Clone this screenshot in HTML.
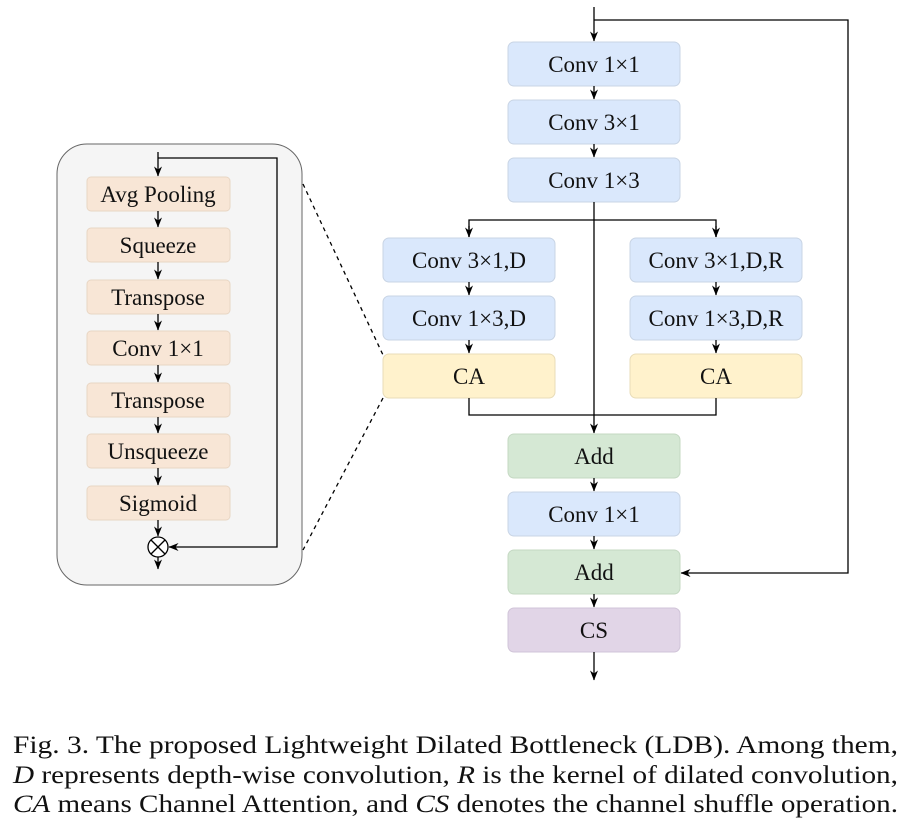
<!DOCTYPE html>
<html><head><meta charset="utf-8"><style>
html,body{margin:0;padding:0;background:#fff;}
svg{display:block;}
text{font-family:"Liberation Serif","Times New Roman",Times,serif;}
</style></head><body>
<svg width="909" height="822" viewBox="0 0 909 822" xmlns="http://www.w3.org/2000/svg">
<defs>
<marker id="a" viewBox="0 0 10 10" refX="9.5" refY="5" markerWidth="10" markerHeight="10" orient="auto" markerUnits="userSpaceOnUse"><path d="M0,1 L10,5 L0,9 L3,5 z" fill="#000"/></marker>
</defs>
<rect x="57" y="144" width="245" height="441" rx="30" fill="#f5f5f5" stroke="#666" stroke-width="1"/>
<g fill="#f8e6d6" stroke="#e8d6c4" stroke-width="1">
<rect x="87" y="177" width="143" height="34" rx="4"/>
<rect x="87" y="228" width="143" height="34" rx="4"/>
<rect x="87" y="280" width="143" height="34" rx="4"/>
<rect x="87" y="331" width="143" height="34" rx="4"/>
<rect x="87" y="383" width="143" height="34" rx="4"/>
<rect x="87" y="434" width="143" height="34" rx="4"/>
<rect x="87" y="486" width="143" height="34" rx="4"/>
</g>
<g font-family="Liberation Serif, Times New Roman, serif" font-size="23" text-anchor="middle" fill="#111">
<text x="158" y="202">Avg Pooling</text>
<text x="158" y="253">Squeeze</text>
<text x="158" y="305">Transpose</text>
<text x="158" y="356">Conv 1×1</text>
<text x="158" y="408">Transpose</text>
<text x="158" y="459">Unsqueeze</text>
<text x="158" y="511">Sigmoid</text>
</g>
<g stroke="#000" stroke-width="1.3" fill="none" marker-end="url(#a)">
<line x1="158" y1="152" x2="158" y2="176"/>
<line x1="158" y1="211" x2="158" y2="227"/>
<line x1="158" y1="262" x2="158" y2="279"/>
<line x1="158" y1="314" x2="158" y2="330"/>
<line x1="158" y1="365" x2="158" y2="382"/>
<line x1="158" y1="417" x2="158" y2="433"/>
<line x1="158" y1="468" x2="158" y2="485"/>
<line x1="158" y1="520" x2="158" y2="536"/>
<line x1="158" y1="557" x2="158" y2="569"/>
<polyline points="158,158 277,158 277,547 169,547"/>
</g>
<circle cx="158" cy="547" r="10" fill="#fff" stroke="#000" stroke-width="1.3"/>
<line x1="151" y1="540" x2="165" y2="554" stroke="#000" stroke-width="1.3"/>
<line x1="165" y1="540" x2="151" y2="554" stroke="#000" stroke-width="1.3"/>
<g stroke="#000" stroke-width="1.3" stroke-dasharray="4,4">
<line x1="303" y1="184" x2="383" y2="355"/>
<line x1="383" y1="398" x2="303" y2="550"/>
</g>
<g stroke="#c8d4e4" stroke-width="1" fill="#dae8fc">
<rect x="508" y="42" width="172" height="44" rx="6"/>
<rect x="508" y="100" width="172" height="44" rx="6"/>
<rect x="508" y="158" width="172" height="44" rx="6"/>
<rect x="383" y="238" width="172" height="44" rx="6"/>
<rect x="383" y="296" width="172" height="44" rx="6"/>
<rect x="630" y="238" width="172" height="44" rx="6"/>
<rect x="630" y="296" width="172" height="44" rx="6"/>
<rect x="508" y="492" width="172" height="44" rx="6"/>
</g>
<g stroke="#e8dcb8" fill="#fff2cc">
<rect x="383" y="354" width="172" height="44" rx="6"/>
<rect x="630" y="354" width="172" height="44" rx="6"/>
</g>
<g stroke="#c4d8c2" fill="#d5e8d4">
<rect x="508" y="434" width="172" height="44" rx="6"/>
<rect x="508" y="550" width="172" height="44" rx="6"/>
</g>
<rect x="508" y="608" width="172" height="44" rx="6" fill="#e1d5e7" stroke="#d0c4d8"/>
<g font-family="Liberation Serif, Times New Roman, serif" font-size="23" text-anchor="middle" fill="#111">
<text x="594" y="72">Conv 1×1</text>
<text x="594" y="130">Conv 3×1</text>
<text x="594" y="188">Conv 1×3</text>
<text x="469" y="268">Conv 3×1,D</text>
<text x="469" y="326">Conv 1×3,D</text>
<text x="469" y="384">CA</text>
<text x="716" y="268">Conv 3×1,D,R</text>
<text x="716" y="326">Conv 1×3,D,R</text>
<text x="716" y="384">CA</text>
<text x="594" y="464">Add</text>
<text x="594" y="522">Conv 1×1</text>
<text x="594" y="580">Add</text>
<text x="594" y="638">CS</text>
</g>
<g stroke="#000" stroke-width="1.3" fill="none">
<line x1="594" y1="7" x2="594" y2="41" marker-end="url(#a)"/>
<polyline points="594,20 848,20 848,573 681,573" marker-end="url(#a)"/>
<line x1="594" y1="86" x2="594" y2="99" marker-end="url(#a)"/>
<line x1="594" y1="144" x2="594" y2="157" marker-end="url(#a)"/>
<line x1="594" y1="202" x2="594" y2="433" marker-end="url(#a)"/>
<polyline points="469,237 469,220 716,220 716,237" />
<line x1="469" y1="226" x2="469" y2="237" marker-end="url(#a)"/>
<line x1="716" y1="226" x2="716" y2="237" marker-end="url(#a)"/>
<line x1="469" y1="282" x2="469" y2="295" marker-end="url(#a)"/>
<line x1="469" y1="340" x2="469" y2="353" marker-end="url(#a)"/>
<line x1="716" y1="282" x2="716" y2="295" marker-end="url(#a)"/>
<line x1="716" y1="340" x2="716" y2="353" marker-end="url(#a)"/>
<polyline points="469,398 469,415 716,415 716,398"/>
<line x1="594" y1="478" x2="594" y2="491" marker-end="url(#a)"/>
<line x1="594" y1="536" x2="594" y2="549" marker-end="url(#a)"/>
<line x1="594" y1="594" x2="594" y2="607" marker-end="url(#a)"/>
<line x1="594" y1="652" x2="594" y2="680" marker-end="url(#a)"/>
</g>
<g font-family="Liberation Serif, Times New Roman, serif" font-size="25" fill="#111">
<text x="13" y="753" textLength="885" lengthAdjust="spacingAndGlyphs">Fig. 3.  The proposed Lightweight Dilated Bottleneck (LDB). Among them,</text>
<text x="13" y="783" textLength="885" lengthAdjust="spacingAndGlyphs"><tspan font-style="italic">D</tspan> represents depth-wise convolution, <tspan font-style="italic">R</tspan> is the kernel of dilated convolution,</text>
<text x="13" y="812" textLength="885" lengthAdjust="spacingAndGlyphs"><tspan font-style="italic">CA</tspan> means Channel Attention, and <tspan font-style="italic">CS</tspan> denotes the channel shuffle operation.</text>
</g>
</svg>
</body></html>
